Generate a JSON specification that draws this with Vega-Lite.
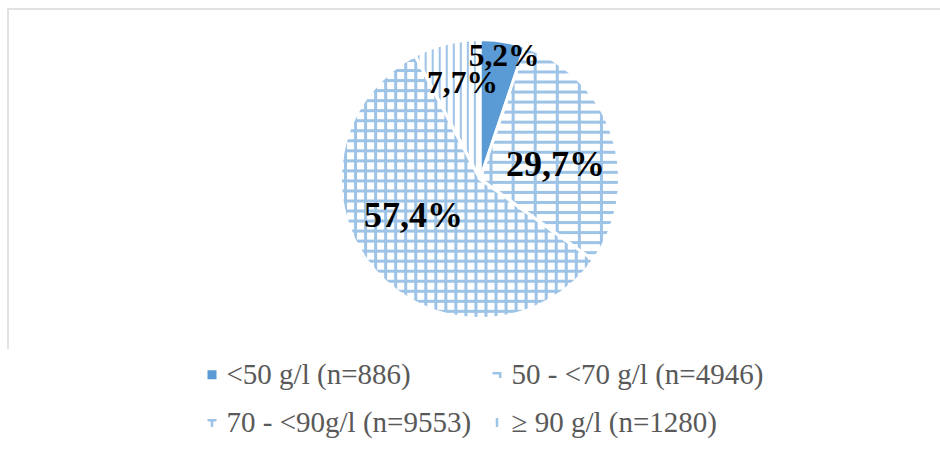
{
  "$schema": "https://vega.github.io/schema/vega-lite/v6.json",
  "width": 944,
  "height": 340,
  "autosize": {"type": "none"},
  "padding": {"left": 8, "top": 9, "right": -12, "bottom": 104},
  "background": "#ffffff",
  "view": {"stroke": "#d9d9d9", "strokeWidth": 1.5, "strokeDash": [944, 1284, 340]},
  "config": {
    "font": "Liberation Serif"
  },
  "data": {
    "values": [
      {"label": "<50 g/l (n=886)", "pct": 5.2, "rank": 1},
      {"label": "50 - <70 g/l (n=4946)", "pct": 29.7, "rank": 2},
      {"label": "70 - <90g/l (n=9553)", "pct": 57.4, "rank": 3},
      {"label": "\u00a0\u2265 90 g/l (n=1280)", "pct": 7.7, "rank": 4}
    ]
  },
  "encoding": {
    "theta": {"field": "pct", "type": "quantitative", "stack": true},
    "order": {"field": "rank", "type": "quantitative"},
    "detail": {"field": "label"}
  },
  "layer": [
    {
      "mark": {"type": "arc", "outerRadius": 139.5},
      "encoding": {
        "color": {
          "field": "label",
          "type": "nominal",
          "scale": {
            "domain": ["<50 g/l (n=886)", "50 - <70 g/l (n=4946)", "70 - <90g/l (n=9553)", "\u00a0\u2265 90 g/l (n=1280)"],
            "range": ["#5b9bd5", "#9dc3e6", "#9dc3e6", "#9dc3e6"]
          },
          "legend": {
            "title": null,
            "orient": "none",
            "legendX": 189.5,
            "legendY": 351,
            "direction": "horizontal",
            "columns": 2,
            "columnPadding": 11,
            "rowPadding": 18,
            "labelOffset": 0,
            "padding": 0,
            "symbolType": "square",
            "symbolSize": 81,
            "symbolStrokeWidth": 0,
            "labelFont": "Liberation Serif",
            "labelFontSize": 29,
            "labelColor": "#595959",
            "labelLimit": 600,
            "encode": {
              "symbols": {
                "update": {
                  "shape": {"signal": "datum.value === '<50 g/l (n=886)' ? 'square' : datum.value === '50 - <70 g/l (n=4946)' ? 'M-1,-0.6H1V0.7H0.45V-0.05H-1Z' : datum.value === '70 - <90g/l (n=9553)' ? 'M-1,-0.8H1V-0.25H0.28V1H-0.28V-0.25H-1Z' : 'M-0.28,-1H0.28V1H-0.28Z'"}
                }
              }
            }
          }
        }
      }
    },
    {
      "mark": {"type": "arc", "outerRadius": 139.5},
      "encoding": {
        "fill": {
          "condition": [
            {
              "test": "datum.rank === 2",
              "value": {
                "gradient": "linear", "x1": 0, "y1": 0, "x2": 0, "y2": 4.704,
                "stops": [
                  {"offset": 0.003, "color": "#fff"}, {"offset": 0.004, "color": "#9dc3e6"}, {"offset": 0.006, "color": "#9dc3e6"}, {"offset": 0.007, "color": "#fff"},
                  {"offset": 0.013, "color": "#fff"}, {"offset": 0.014, "color": "#9dc3e6"}, {"offset": 0.016, "color": "#9dc3e6"}, {"offset": 0.017, "color": "#fff"},
                  {"offset": 0.023, "color": "#fff"}, {"offset": 0.024, "color": "#9dc3e6"}, {"offset": 0.026, "color": "#9dc3e6"}, {"offset": 0.027, "color": "#fff"},
                  {"offset": 0.033, "color": "#fff"}, {"offset": 0.034, "color": "#9dc3e6"}, {"offset": 0.036, "color": "#9dc3e6"}, {"offset": 0.037, "color": "#fff"},
                  {"offset": 0.043, "color": "#fff"}, {"offset": 0.044, "color": "#9dc3e6"}, {"offset": 0.046, "color": "#9dc3e6"}, {"offset": 0.047, "color": "#fff"},
                  {"offset": 0.053, "color": "#fff"}, {"offset": 0.054, "color": "#9dc3e6"}, {"offset": 0.056, "color": "#9dc3e6"}, {"offset": 0.057, "color": "#fff"},
                  {"offset": 0.063, "color": "#fff"}, {"offset": 0.064, "color": "#9dc3e6"}, {"offset": 0.066, "color": "#9dc3e6"}, {"offset": 0.067, "color": "#fff"},
                  {"offset": 0.073, "color": "#fff"}, {"offset": 0.074, "color": "#9dc3e6"}, {"offset": 0.076, "color": "#9dc3e6"}, {"offset": 0.077, "color": "#fff"},
                  {"offset": 0.083, "color": "#fff"}, {"offset": 0.084, "color": "#9dc3e6"}, {"offset": 0.086, "color": "#9dc3e6"}, {"offset": 0.087, "color": "#fff"},
                  {"offset": 0.093, "color": "#fff"}, {"offset": 0.094, "color": "#9dc3e6"}, {"offset": 0.096, "color": "#9dc3e6"}, {"offset": 0.097, "color": "#fff"},
                  {"offset": 0.103, "color": "#fff"}, {"offset": 0.104, "color": "#9dc3e6"}, {"offset": 0.106, "color": "#9dc3e6"}, {"offset": 0.107, "color": "#fff"},
                  {"offset": 0.113, "color": "#fff"}, {"offset": 0.114, "color": "#9dc3e6"}, {"offset": 0.116, "color": "#9dc3e6"}, {"offset": 0.117, "color": "#fff"},
                  {"offset": 0.123, "color": "#fff"}, {"offset": 0.124, "color": "#9dc3e6"}, {"offset": 0.126, "color": "#9dc3e6"}, {"offset": 0.127, "color": "#fff"},
                  {"offset": 0.133, "color": "#fff"}, {"offset": 0.134, "color": "#9dc3e6"}, {"offset": 0.136, "color": "#9dc3e6"}, {"offset": 0.137, "color": "#fff"},
                  {"offset": 0.143, "color": "#fff"}, {"offset": 0.144, "color": "#9dc3e6"}, {"offset": 0.146, "color": "#9dc3e6"}, {"offset": 0.147, "color": "#fff"},
                  {"offset": 0.153, "color": "#fff"}, {"offset": 0.154, "color": "#9dc3e6"}, {"offset": 0.156, "color": "#9dc3e6"}, {"offset": 0.157, "color": "#fff"},
                  {"offset": 0.163, "color": "#fff"}, {"offset": 0.164, "color": "#9dc3e6"}, {"offset": 0.166, "color": "#9dc3e6"}, {"offset": 0.167, "color": "#fff"},
                  {"offset": 0.173, "color": "#fff"}, {"offset": 0.174, "color": "#9dc3e6"}, {"offset": 0.176, "color": "#9dc3e6"}, {"offset": 0.177, "color": "#fff"},
                  {"offset": 0.183, "color": "#fff"}, {"offset": 0.184, "color": "#9dc3e6"}, {"offset": 0.186, "color": "#9dc3e6"}, {"offset": 0.187, "color": "#fff"},
                  {"offset": 0.193, "color": "#fff"}, {"offset": 0.194, "color": "#9dc3e6"}, {"offset": 0.196, "color": "#9dc3e6"}, {"offset": 0.197, "color": "#fff"},
                  {"offset": 0.203, "color": "#fff"}, {"offset": 0.204, "color": "#9dc3e6"}, {"offset": 0.206, "color": "#9dc3e6"}, {"offset": 0.207, "color": "#fff"},
                  {"offset": 0.213, "color": "#fff"}, {"offset": 0.214, "color": "#9dc3e6"}, {"offset": 0.216, "color": "#9dc3e6"}, {"offset": 0.217, "color": "#fff"}
                ]
              }
            },
            {
              "test": "datum.rank === 3",
              "value": {
                "gradient": "linear", "x1": 0, "y1": 0, "x2": 0, "y2": 3.815,
                "stops": [
                  {"offset": 0.003, "color": "#fff"}, {"offset": 0.004, "color": "#9dc3e6"}, {"offset": 0.006, "color": "#9dc3e6"}, {"offset": 0.007, "color": "#fff"},
                  {"offset": 0.013, "color": "#fff"}, {"offset": 0.014, "color": "#9dc3e6"}, {"offset": 0.016, "color": "#9dc3e6"}, {"offset": 0.017, "color": "#fff"},
                  {"offset": 0.023, "color": "#fff"}, {"offset": 0.024, "color": "#9dc3e6"}, {"offset": 0.026, "color": "#9dc3e6"}, {"offset": 0.027, "color": "#fff"},
                  {"offset": 0.033, "color": "#fff"}, {"offset": 0.034, "color": "#9dc3e6"}, {"offset": 0.036, "color": "#9dc3e6"}, {"offset": 0.037, "color": "#fff"},
                  {"offset": 0.043, "color": "#fff"}, {"offset": 0.044, "color": "#9dc3e6"}, {"offset": 0.046, "color": "#9dc3e6"}, {"offset": 0.047, "color": "#fff"},
                  {"offset": 0.053, "color": "#fff"}, {"offset": 0.054, "color": "#9dc3e6"}, {"offset": 0.056, "color": "#9dc3e6"}, {"offset": 0.057, "color": "#fff"},
                  {"offset": 0.063, "color": "#fff"}, {"offset": 0.064, "color": "#9dc3e6"}, {"offset": 0.066, "color": "#9dc3e6"}, {"offset": 0.067, "color": "#fff"},
                  {"offset": 0.073, "color": "#fff"}, {"offset": 0.074, "color": "#9dc3e6"}, {"offset": 0.076, "color": "#9dc3e6"}, {"offset": 0.077, "color": "#fff"},
                  {"offset": 0.083, "color": "#fff"}, {"offset": 0.084, "color": "#9dc3e6"}, {"offset": 0.086, "color": "#9dc3e6"}, {"offset": 0.087, "color": "#fff"},
                  {"offset": 0.093, "color": "#fff"}, {"offset": 0.094, "color": "#9dc3e6"}, {"offset": 0.096, "color": "#9dc3e6"}, {"offset": 0.097, "color": "#fff"},
                  {"offset": 0.103, "color": "#fff"}, {"offset": 0.104, "color": "#9dc3e6"}, {"offset": 0.106, "color": "#9dc3e6"}, {"offset": 0.107, "color": "#fff"},
                  {"offset": 0.113, "color": "#fff"}, {"offset": 0.114, "color": "#9dc3e6"}, {"offset": 0.116, "color": "#9dc3e6"}, {"offset": 0.117, "color": "#fff"},
                  {"offset": 0.123, "color": "#fff"}, {"offset": 0.124, "color": "#9dc3e6"}, {"offset": 0.126, "color": "#9dc3e6"}, {"offset": 0.127, "color": "#fff"},
                  {"offset": 0.133, "color": "#fff"}, {"offset": 0.134, "color": "#9dc3e6"}, {"offset": 0.136, "color": "#9dc3e6"}, {"offset": 0.137, "color": "#fff"},
                  {"offset": 0.143, "color": "#fff"}, {"offset": 0.144, "color": "#9dc3e6"}, {"offset": 0.146, "color": "#9dc3e6"}, {"offset": 0.147, "color": "#fff"},
                  {"offset": 0.153, "color": "#fff"}, {"offset": 0.154, "color": "#9dc3e6"}, {"offset": 0.156, "color": "#9dc3e6"}, {"offset": 0.157, "color": "#fff"},
                  {"offset": 0.163, "color": "#fff"}, {"offset": 0.164, "color": "#9dc3e6"}, {"offset": 0.166, "color": "#9dc3e6"}, {"offset": 0.167, "color": "#fff"},
                  {"offset": 0.173, "color": "#fff"}, {"offset": 0.174, "color": "#9dc3e6"}, {"offset": 0.176, "color": "#9dc3e6"}, {"offset": 0.177, "color": "#fff"},
                  {"offset": 0.183, "color": "#fff"}, {"offset": 0.184, "color": "#9dc3e6"}, {"offset": 0.186, "color": "#9dc3e6"}, {"offset": 0.187, "color": "#fff"},
                  {"offset": 0.193, "color": "#fff"}, {"offset": 0.194, "color": "#9dc3e6"}, {"offset": 0.196, "color": "#9dc3e6"}, {"offset": 0.197, "color": "#fff"},
                  {"offset": 0.203, "color": "#fff"}, {"offset": 0.204, "color": "#9dc3e6"}, {"offset": 0.206, "color": "#9dc3e6"}, {"offset": 0.207, "color": "#fff"},
                  {"offset": 0.213, "color": "#fff"}, {"offset": 0.214, "color": "#9dc3e6"}, {"offset": 0.216, "color": "#9dc3e6"}, {"offset": 0.217, "color": "#fff"},
                  {"offset": 0.223, "color": "#fff"}, {"offset": 0.224, "color": "#9dc3e6"}, {"offset": 0.226, "color": "#9dc3e6"}, {"offset": 0.227, "color": "#fff"},
                  {"offset": 0.233, "color": "#fff"}, {"offset": 0.234, "color": "#9dc3e6"}, {"offset": 0.236, "color": "#9dc3e6"}, {"offset": 0.237, "color": "#fff"},
                  {"offset": 0.243, "color": "#fff"}, {"offset": 0.244, "color": "#9dc3e6"}, {"offset": 0.246, "color": "#9dc3e6"}, {"offset": 0.247, "color": "#fff"},
                  {"offset": 0.253, "color": "#fff"}, {"offset": 0.254, "color": "#9dc3e6"}, {"offset": 0.256, "color": "#9dc3e6"}, {"offset": 0.257, "color": "#fff"},
                  {"offset": 0.263, "color": "#fff"}, {"offset": 0.264, "color": "#9dc3e6"}, {"offset": 0.266, "color": "#9dc3e6"}, {"offset": 0.267, "color": "#fff"}
                ]
              }
            },
            {
              "test": "datum.rank === 4",
              "value": {
                "gradient": "linear", "x1": 0, "y1": 0, "x2": 15.48, "y2": 0,
                "stops": [
                  {"offset": 0.002, "color": "#fff"}, {"offset": 0.003, "color": "#9dc3e6"}, {"offset": 0.004, "color": "#9dc3e6"}, {"offset": 0.005, "color": "#fff"},
                  {"offset": 0.009, "color": "#fff"}, {"offset": 0.010, "color": "#9dc3e6"}, {"offset": 0.011, "color": "#9dc3e6"}, {"offset": 0.012, "color": "#fff"},
                  {"offset": 0.016, "color": "#fff"}, {"offset": 0.017, "color": "#9dc3e6"}, {"offset": 0.018, "color": "#9dc3e6"}, {"offset": 0.019, "color": "#fff"},
                  {"offset": 0.023, "color": "#fff"}, {"offset": 0.024, "color": "#9dc3e6"}, {"offset": 0.025, "color": "#9dc3e6"}, {"offset": 0.026, "color": "#fff"},
                  {"offset": 0.030, "color": "#fff"}, {"offset": 0.031, "color": "#9dc3e6"}, {"offset": 0.032, "color": "#9dc3e6"}, {"offset": 0.033, "color": "#fff"},
                  {"offset": 0.037, "color": "#fff"}, {"offset": 0.038, "color": "#9dc3e6"}, {"offset": 0.039, "color": "#9dc3e6"}, {"offset": 0.040, "color": "#fff"},
                  {"offset": 0.044, "color": "#fff"}, {"offset": 0.045, "color": "#9dc3e6"}, {"offset": 0.046, "color": "#9dc3e6"}, {"offset": 0.047, "color": "#fff"},
                  {"offset": 0.051, "color": "#fff"}, {"offset": 0.052, "color": "#9dc3e6"}, {"offset": 0.053, "color": "#9dc3e6"}, {"offset": 0.054, "color": "#fff"},
                  {"offset": 0.058, "color": "#fff"}, {"offset": 0.059, "color": "#9dc3e6"}, {"offset": 0.060, "color": "#9dc3e6"}, {"offset": 0.061, "color": "#fff"}
                ]
              }
            }
          ],
          "value": "transparent"
        }
      }
    },
    {
      "mark": {"type": "arc", "outerRadius": 139.5, "stroke": "#ffffff", "strokeWidth": 3, "strokeJoin": "round"},
      "encoding": {
        "fill": {
          "condition": [
            {
              "test": "datum.rank === 2",
              "value": {
                "gradient": "linear", "x1": 0, "y1": 0, "x2": 7.194, "y2": 0,
                "stops": [
                  {"offset": 0.009, "color": "rgba(157,195,230,0)"}, {"offset": 0.010, "color": "#9dc3e6"}, {"offset": 0.012, "color": "#9dc3e6"}, {"offset": 0.013, "color": "rgba(157,195,230,0)"},
                  {"offset": 0.031, "color": "rgba(157,195,230,0)"}, {"offset": 0.032, "color": "#9dc3e6"}, {"offset": 0.034, "color": "#9dc3e6"}, {"offset": 0.035, "color": "rgba(157,195,230,0)"},
                  {"offset": 0.053, "color": "rgba(157,195,230,0)"}, {"offset": 0.054, "color": "#9dc3e6"}, {"offset": 0.056, "color": "#9dc3e6"}, {"offset": 0.057, "color": "rgba(157,195,230,0)"},
                  {"offset": 0.075, "color": "rgba(157,195,230,0)"}, {"offset": 0.076, "color": "#9dc3e6"}, {"offset": 0.078, "color": "#9dc3e6"}, {"offset": 0.079, "color": "rgba(157,195,230,0)"},
                  {"offset": 0.097, "color": "rgba(157,195,230,0)"}, {"offset": 0.098, "color": "#9dc3e6"}, {"offset": 0.100, "color": "#9dc3e6"}, {"offset": 0.101, "color": "rgba(157,195,230,0)"},
                  {"offset": 0.119, "color": "rgba(157,195,230,0)"}, {"offset": 0.120, "color": "#9dc3e6"}, {"offset": 0.122, "color": "#9dc3e6"}, {"offset": 0.123, "color": "rgba(157,195,230,0)"}
                ]
              }
            },
            {
              "test": "datum.rank === 3",
              "value": {
                "gradient": "linear", "x1": 0, "y1": 0, "x2": 3.968, "y2": 0,
                "stops": [
                  {"offset": 0.003, "color": "rgba(157,195,230,0)"}, {"offset": 0.004, "color": "#9dc3e6"}, {"offset": 0.006, "color": "#9dc3e6"}, {"offset": 0.007, "color": "rgba(157,195,230,0)"},
                  {"offset": 0.013, "color": "rgba(157,195,230,0)"}, {"offset": 0.014, "color": "#9dc3e6"}, {"offset": 0.016, "color": "#9dc3e6"}, {"offset": 0.017, "color": "rgba(157,195,230,0)"},
                  {"offset": 0.023, "color": "rgba(157,195,230,0)"}, {"offset": 0.024, "color": "#9dc3e6"}, {"offset": 0.026, "color": "#9dc3e6"}, {"offset": 0.027, "color": "rgba(157,195,230,0)"},
                  {"offset": 0.033, "color": "rgba(157,195,230,0)"}, {"offset": 0.034, "color": "#9dc3e6"}, {"offset": 0.036, "color": "#9dc3e6"}, {"offset": 0.037, "color": "rgba(157,195,230,0)"},
                  {"offset": 0.043, "color": "rgba(157,195,230,0)"}, {"offset": 0.044, "color": "#9dc3e6"}, {"offset": 0.046, "color": "#9dc3e6"}, {"offset": 0.047, "color": "rgba(157,195,230,0)"},
                  {"offset": 0.053, "color": "rgba(157,195,230,0)"}, {"offset": 0.054, "color": "#9dc3e6"}, {"offset": 0.056, "color": "#9dc3e6"}, {"offset": 0.057, "color": "rgba(157,195,230,0)"},
                  {"offset": 0.063, "color": "rgba(157,195,230,0)"}, {"offset": 0.064, "color": "#9dc3e6"}, {"offset": 0.066, "color": "#9dc3e6"}, {"offset": 0.067, "color": "rgba(157,195,230,0)"},
                  {"offset": 0.073, "color": "rgba(157,195,230,0)"}, {"offset": 0.074, "color": "#9dc3e6"}, {"offset": 0.076, "color": "#9dc3e6"}, {"offset": 0.077, "color": "rgba(157,195,230,0)"},
                  {"offset": 0.083, "color": "rgba(157,195,230,0)"}, {"offset": 0.084, "color": "#9dc3e6"}, {"offset": 0.086, "color": "#9dc3e6"}, {"offset": 0.087, "color": "rgba(157,195,230,0)"},
                  {"offset": 0.093, "color": "rgba(157,195,230,0)"}, {"offset": 0.094, "color": "#9dc3e6"}, {"offset": 0.096, "color": "#9dc3e6"}, {"offset": 0.097, "color": "rgba(157,195,230,0)"},
                  {"offset": 0.103, "color": "rgba(157,195,230,0)"}, {"offset": 0.104, "color": "#9dc3e6"}, {"offset": 0.106, "color": "#9dc3e6"}, {"offset": 0.107, "color": "rgba(157,195,230,0)"},
                  {"offset": 0.113, "color": "rgba(157,195,230,0)"}, {"offset": 0.114, "color": "#9dc3e6"}, {"offset": 0.116, "color": "#9dc3e6"}, {"offset": 0.117, "color": "rgba(157,195,230,0)"},
                  {"offset": 0.123, "color": "rgba(157,195,230,0)"}, {"offset": 0.124, "color": "#9dc3e6"}, {"offset": 0.126, "color": "#9dc3e6"}, {"offset": 0.127, "color": "rgba(157,195,230,0)"},
                  {"offset": 0.133, "color": "rgba(157,195,230,0)"}, {"offset": 0.134, "color": "#9dc3e6"}, {"offset": 0.136, "color": "#9dc3e6"}, {"offset": 0.137, "color": "rgba(157,195,230,0)"},
                  {"offset": 0.143, "color": "rgba(157,195,230,0)"}, {"offset": 0.144, "color": "#9dc3e6"}, {"offset": 0.146, "color": "#9dc3e6"}, {"offset": 0.147, "color": "rgba(157,195,230,0)"},
                  {"offset": 0.153, "color": "rgba(157,195,230,0)"}, {"offset": 0.154, "color": "#9dc3e6"}, {"offset": 0.156, "color": "#9dc3e6"}, {"offset": 0.157, "color": "rgba(157,195,230,0)"},
                  {"offset": 0.163, "color": "rgba(157,195,230,0)"}, {"offset": 0.164, "color": "#9dc3e6"}, {"offset": 0.166, "color": "#9dc3e6"}, {"offset": 0.167, "color": "rgba(157,195,230,0)"},
                  {"offset": 0.173, "color": "rgba(157,195,230,0)"}, {"offset": 0.174, "color": "#9dc3e6"}, {"offset": 0.176, "color": "#9dc3e6"}, {"offset": 0.177, "color": "rgba(157,195,230,0)"},
                  {"offset": 0.183, "color": "rgba(157,195,230,0)"}, {"offset": 0.184, "color": "#9dc3e6"}, {"offset": 0.186, "color": "#9dc3e6"}, {"offset": 0.187, "color": "rgba(157,195,230,0)"},
                  {"offset": 0.193, "color": "rgba(157,195,230,0)"}, {"offset": 0.194, "color": "#9dc3e6"}, {"offset": 0.196, "color": "#9dc3e6"}, {"offset": 0.197, "color": "rgba(157,195,230,0)"},
                  {"offset": 0.203, "color": "rgba(157,195,230,0)"}, {"offset": 0.204, "color": "#9dc3e6"}, {"offset": 0.206, "color": "#9dc3e6"}, {"offset": 0.207, "color": "rgba(157,195,230,0)"},
                  {"offset": 0.213, "color": "rgba(157,195,230,0)"}, {"offset": 0.214, "color": "#9dc3e6"}, {"offset": 0.216, "color": "#9dc3e6"}, {"offset": 0.217, "color": "rgba(157,195,230,0)"},
                  {"offset": 0.223, "color": "rgba(157,195,230,0)"}, {"offset": 0.224, "color": "#9dc3e6"}, {"offset": 0.226, "color": "#9dc3e6"}, {"offset": 0.227, "color": "rgba(157,195,230,0)"},
                  {"offset": 0.233, "color": "rgba(157,195,230,0)"}, {"offset": 0.234, "color": "#9dc3e6"}, {"offset": 0.236, "color": "#9dc3e6"}, {"offset": 0.237, "color": "rgba(157,195,230,0)"},
                  {"offset": 0.243, "color": "rgba(157,195,230,0)"}, {"offset": 0.244, "color": "#9dc3e6"}, {"offset": 0.246, "color": "#9dc3e6"}, {"offset": 0.247, "color": "rgba(157,195,230,0)"},
                  {"offset": 0.253, "color": "rgba(157,195,230,0)"}, {"offset": 0.254, "color": "#9dc3e6"}, {"offset": 0.256, "color": "#9dc3e6"}, {"offset": 0.257, "color": "rgba(157,195,230,0)"}
                ]
              }
            }
          ],
          "value": "transparent"
        }
      }
    },
    {
      "transform": [
        {"calculate": "replace(format(datum.pct, '.1f'), '.', ',') + '%'", "as": "pctText"}
      ],
      "mark": {
        "type": "text",
        "font": "Liberation Serif",
        "fontWeight": "bold",
        "color": "#000000",
        "align": "center",
        "baseline": "middle",
        "dx": {"expr": "datum.rank === 3 ? -10 : datum.rank === 4 ? 6 : 4"},
        "dy": {"expr": "datum.rank === 3 ? -12 : datum.rank === 2 ? 9 : 0"}
      },
      "encoding": {
        "radius": {"value": {"expr": "datum.rank === 1 ? 124 : datum.rank === 4 ? 98 : 75"}},
        "text": {"field": "pctText"},
        "size": {"condition": {"test": "datum.pct > 20", "value": 36}, "value": 31.5}
      }
    }
  ]
}
